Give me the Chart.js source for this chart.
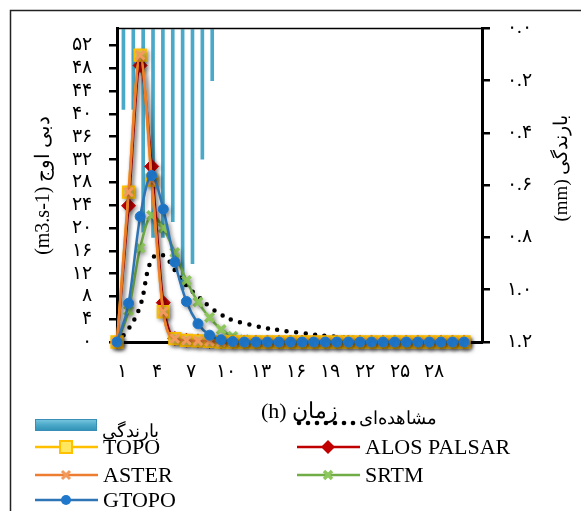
<!DOCTYPE html>
<html><head><meta charset="utf-8">
<script src="https://cdn.jsdelivr.net/npm/chart.js@4/dist/chart.umd.min.js"></script>
<style>html,body{margin:0;padding:0;background:#fff;}#wrap{width:581px;height:511px;position:relative;}</style>
</head><body><div id="wrap"><canvas id="c" width="581" height="511"></canvas></div>
<script>
// ---- data ----
const hours = [1,2,3,4,5,6,7,8,9,10,11,12,13,14,15,16,17,18,19,20,21,22,23,24,25,26,27,28,29,30,31];
const observed = [0,2.3,6.3,14.5,15.2,12.6,9.9,8.0,6.2,4.8,3.8,3.3,2.8,2.4,2.1,1.8,1.6,1.3,1.1,0.9,0.8,0.7,0.6,0.5,0.45,0.4,0.35,0.3,0.25,0.2,0.15];
const topo  = [0,26.3,50.3,28.4,5.3,0.6,0.3,0.2,0.1,0,0,0,0,0,0,0,0,0,0,0,0,0,0,0,0,0,0,0,0,0,0];
const alos  = [0,23.9,48.5,30.8,6.9,0.6,0.3,0.2,0.1,0,0,0,0,0,0,0,0,0,0,0,0,0,0,0,0,0,0,0,0,0,0];
const aster = [0,26.3,50.3,28.4,5.3,0.6,0.3,0.2,0.1,0,0,0,0,0,0,0,0,0,0,0,0,0,0,0,0,0,0,0,0,0,0];
const srtm  = [0,5.5,16.5,22.2,20.0,15.7,10.8,7.0,4.3,2.2,1.0,0.4,0.1,0,0,0,0,0,0,0,0,0,0,0,0,0,0,0,0,0,0];
const gtopo = [0,6.8,22.0,29.2,23.3,14.0,7.1,3.2,1.2,0.4,0.1,0,0,0,0,0,0,0,0,0,0,0,0,0,0,0,0,0,0,0,0];
const rainSteps = [1,2,3,4,5,6,7,8,9,10,11,12,13,14,15,16,17,18,19,20,21,22,23,24,25,26,27,28,29,30,31,32,33,34,35,36,37];
const rainfall = [0.31,0.31,0.78,0.80,0.80,0.74,1.0,0.90,0.50,0.20];
const xTickValues = [1,4,7,10,13,16,19,22,25,28];
const leftTickValues = [0,4,8,12,16,20,24,28,32,36,40,44,48,52];
const rightTickValues = [0,0.2,0.4,0.6,0.8,1.0,1.2];
const labelRain = 'بارندگی';
const labelObserved = 'مشاهده‌ای';
const labelTopo = 'TOPO', labelAlos = 'ALOS PALSAR', labelAster = 'ASTER', labelSrtm = 'SRTM', labelGtopo = 'GTOPO';
const titleLeft = '(m3.s-1) دبی اوج';
const titleRight = '(mm) بارندگی';
const titleX = '(h) زمان';

const fa = s => String(s).replace(/\d/g, d => '۰۱۲۳۴۵۶۷۸۹'[d]);
const pts = arr => hours.map((h, i) => ({x: h, y: arr[i]}));
const SERIF = "'Liberation Serif', 'Times New Roman', serif";

const shadowPlugin = {
  id: 'shadow',
  beforeDatasetDraw(chart, args) {
    const ds = chart.data.datasets[args.index];
    if (ds.shadow) {
      const ctx = chart.ctx; ctx.save();
      ctx.shadowColor = 'rgba(0,0,0,0.35)'; ctx.shadowBlur = 4; ctx.shadowOffsetX = 2; ctx.shadowOffsetY = 2;
    }
  },
  afterDatasetDraw(chart, args) {
    const ds = chart.data.datasets[args.index];
    if (ds.shadow) chart.ctx.restore();
  }
};

const framePlugin = {
  id: 'frame',
  afterDraw(chart) {
    const ctx = chart.ctx, a = chart.chartArea;
    ctx.save();
    ctx.strokeStyle = '#000'; ctx.lineWidth = 1.5;
    ctx.beginPath(); ctx.moveTo(a.left, a.top); ctx.lineTo(a.right, a.top); ctx.stroke();
    ctx.strokeStyle = '#222'; ctx.lineWidth = 1.5;
    ctx.beginPath(); ctx.moveTo(10.5, 600); ctx.lineTo(10.5, 10.5); ctx.lineTo(600, 10.5); ctx.stroke();
    // right axis title
    ctx.save();
    ctx.translate(562, 168); ctx.rotate(-Math.PI / 2);
    ctx.font = '19px ' + SERIF; ctx.fillStyle = '#000'; ctx.textAlign = 'center'; ctx.textBaseline = 'middle';
    ctx.fillText(titleRight, 0, 0);
    ctx.restore();
    // legend
    const dsets = chart.data.datasets;
    const byLabel = l => dsets.find(d => d.label === l);
    // rain
    const rd = byLabel(labelRain);
    const g = ctx.createLinearGradient(0, 419, 0, 431);
    g.addColorStop(0, '#7cc8e0'); g.addColorStop(0.5, rd.backgroundColor); g.addColorStop(1, '#2f8fb4');
    ctx.fillStyle = g; ctx.fillRect(35, 419, 62, 12);
    ctx.strokeStyle = '#3a8db5'; ctx.lineWidth = 1; ctx.strokeRect(35.5, 419.5, 61, 11);
    ctx.font = '18px ' + SERIF; ctx.fillStyle = '#000'; ctx.textAlign = 'left'; ctx.textBaseline = 'middle';
    ctx.fillText(labelRain, 102, 432);
    // observed
    ctx.fillStyle = '#000';
    for (let k = 0; k < 7; k++) { ctx.beginPath(); ctx.arc(299 + k * 9, 423, 2.3, 0, Math.PI * 2); ctx.fill(); }
    ctx.fillText(labelObserved, 359, 419);
    const items = [
      [labelTopo, 35, 447], [labelAlos, 297, 447],
      [labelAster, 35, 475], [labelSrtm, 297, 475],
      [labelGtopo, 35, 500]
    ];
    ctx.font = '22px ' + SERIF;
    items.forEach(([lab, x0, y]) => {
      const d = byLabel(lab);
      ctx.strokeStyle = d.borderColor; ctx.lineWidth = 2.5;
      ctx.beginPath(); ctx.moveTo(x0, y); ctx.lineTo(x0 + 63, y); ctx.stroke();
      const cx = x0 + 31;
      ctx.fillStyle = d.pointBackgroundColor; ctx.strokeStyle = d.pointBorderColor; ctx.lineWidth = d.pointBorderWidth;
      ctx.beginPath();
      if (d.pointStyle === 'rect') { ctx.rect(cx - 6, y - 6, 12, 12); ctx.fill(); ctx.stroke(); }
      else if (d.pointStyle === 'rectRot') { ctx.moveTo(cx, y - 7); ctx.lineTo(cx + 7, y); ctx.lineTo(cx, y + 7); ctx.lineTo(cx - 7, y); ctx.closePath(); ctx.fill(); }
      else if (d.pointStyle === 'circle') { ctx.arc(cx, y, 5, 0, Math.PI * 2); ctx.fill(); }
      else { ctx.moveTo(cx - 4, y - 4); ctx.lineTo(cx + 4, y + 4); ctx.moveTo(cx + 4, y - 4); ctx.lineTo(cx - 4, y + 4); ctx.stroke(); }
      ctx.fillStyle = '#000'; ctx.textAlign = 'left'; ctx.textBaseline = 'middle';
      ctx.fillText(lab, x0 + 68, y + 1);
    });
    ctx.restore();
  }
};

const tickFont = {family: SERIF, size: 19};

new Chart(document.getElementById('c'), {
  data: {
    datasets: [
      {type: 'line', label: labelGtopo, data: pts(gtopo), xAxisID: 'x', yAxisID: 'y', order: 1, shadow: true,
        borderColor: '#2E75B6', borderWidth: 2.5, pointStyle: 'circle', pointRadius: 5,
        pointBackgroundColor: '#1f78cc', pointBorderColor: '#1f78cc', pointBorderWidth: 1, cubicInterpolationMode: 'monotone', clip: false},
      {type: 'line', label: labelAster, data: pts(aster), xAxisID: 'x', yAxisID: 'y', order: 2, shadow: true,
        borderColor: '#ED7D31', borderWidth: 2.5, pointStyle: 'crossRot', pointRadius: 6,
        pointBackgroundColor: '#F4A06A', pointBorderColor: '#F29A5E', pointBorderWidth: 3, cubicInterpolationMode: 'monotone', clip: false},
      {type: 'line', label: labelTopo, data: pts(topo), xAxisID: 'x', yAxisID: 'y', order: 3, shadow: true,
        borderColor: '#FFC000', borderWidth: 2.5, pointStyle: 'rect', pointRadius: 8,
        pointBackgroundColor: '#FFE860', pointBorderColor: '#FFC000', pointBorderWidth: 2, cubicInterpolationMode: 'monotone', clip: false},
      {type: 'line', label: labelAlos, data: pts(alos), xAxisID: 'x', yAxisID: 'y', order: 4, shadow: true,
        borderColor: '#C00000', borderWidth: 2.5, pointStyle: 'rectRot', pointRadius: 7,
        pointBackgroundColor: '#C00000', pointBorderColor: '#C00000', pointBorderWidth: 1, cubicInterpolationMode: 'monotone', clip: false},
      {type: 'line', label: labelSrtm, data: pts(srtm), xAxisID: 'x', yAxisID: 'y', order: 5, shadow: true,
        borderColor: '#70AD47', borderWidth: 2.5, pointStyle: 'crossRot', pointRadius: 6,
        pointBackgroundColor: '#9BCB6B', pointBorderColor: '#8DC65C', pointBorderWidth: 3.5, cubicInterpolationMode: 'monotone', clip: false},
      {type: 'line', label: labelObserved, data: pts(observed), xAxisID: 'x', yAxisID: 'y', order: 6,
        borderColor: '#000', borderWidth: 4.5, borderDash: [0, 9.5], borderCapStyle: 'round', pointRadius: 0, tension: 0.4, clip: false},
      {type: 'bar', label: labelRain, data: rainfall, xAxisID: 'xRain', yAxisID: 'yRain', order: 10,
        backgroundColor: '#4aa9c9', borderColor: '#3a8db5', borderWidth: 0, barThickness: 3}
    ]
  },
  options: {
    responsive: false, animation: false,
    layout: {padding: {top: 24, left: 0, right: 0, bottom: 0}},
    plugins: {legend: {display: false}, tooltip: {enabled: false}},
    scales: {
      x: {type: 'linear', position: 'bottom', min: 1, max: 32.55,
        afterBuildTicks: s => { s.ticks = xTickValues.map(v => ({value: v})); },
        afterFit: s => { s.height = 169; },
        grid: {display: true, drawOnChartArea: false, drawTicks: false, color: 'rgba(0,0,0,0)'},
        border: {display: true, color: '#000', width: 3},
        ticks: {font: {family: SERIF, size: 19}, color: '#000', padding: 19, labelOffset: 5, maxRotation: 0, autoSkip: false, callback: v => fa(v)},
        title: {display: true, text: titleX, font: {family: SERIF, size: 22}, color: '#000', padding: {top: 0, bottom: 86}}
      },
      xRain: {type: 'category', labels: rainSteps, offset: true, display: false, position: 'top'},
      y: {type: 'linear', position: 'left', min: 0, max: 55,
        afterBuildTicks: s => { s.ticks = leftTickValues.map(v => ({value: v})); },
        afterFit: s => { s.width = 117; },
        grid: {display: true, drawOnChartArea: false, drawTicks: true, tickLength: 8, color: '#000', lineWidth: 2.5},
        border: {display: true, color: '#000', width: 3},
        ticks: {font: tickFont, color: '#000', padding: 17, autoSkip: false, callback: v => fa(v)},
        title: {display: true, text: titleLeft, font: {family: SERIF, size: 20}, color: '#000', padding: {top: 32, bottom: 0}}
      },
      yRain: {type: 'linear', position: 'right', min: 0, max: 1.2, reverse: true,
        afterBuildTicks: s => { s.ticks = rightTickValues.map(v => ({value: v})); },
        afterFit: s => { s.width = 99; },
        grid: {display: true, drawOnChartArea: false, drawTicks: true, tickLength: 8, color: '#000', lineWidth: 2.5},
        border: {display: true, color: '#000', width: 3},
        ticks: {font: tickFont, color: '#000', padding: 17, autoSkip: false, callback: v => fa(v.toFixed(1))}
      }
    }
  },
  plugins: [shadowPlugin, framePlugin]
});
</script></body></html>
